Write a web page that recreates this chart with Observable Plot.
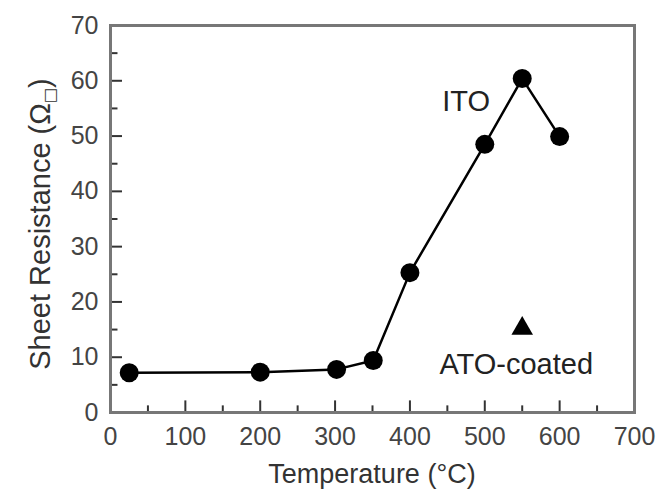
<!DOCTYPE html>
<html><head><meta charset="utf-8">
<script src="https://cdn.jsdelivr.net/npm/d3@7"></script>
<script src="https://cdn.jsdelivr.net/npm/@observablehq/plot@0.6"></script>
<style>body{margin:0;background:#fff;font-family:"Liberation Sans",Arial,sans-serif;}</style>
</head><body><div id="chart"></div>
<script>
const temps = [25, 200, 302, 351, 400, 500, 550, 600];
const itoRes = [7.2, 7.3, 7.8, 9.4, 25.3, 48.5, 60.4, 49.9];
const atoTemp = [550];
const atoRes = [15.2];
const xTicks = [0, 100, 200, 300, 400, 500, 600, 700];
const xMinor = [50, 150, 250, 350, 450, 550, 650];
const yTicks = [0, 10, 20, 30, 40, 50, 60, 70];
const yMinor = [5, 15, 25, 35, 45, 55, 65];

const ito = temps.map((t, i) => ({t, r: itoRes[i]}));
const ato = atoTemp.map((t, i) => ({t, r: atoRes[i]}));

const W = 667, H = 493, ML = 110, MR = 33, MT = 25, MB = 81;
const plot = Plot.plot({
  width: W, height: H,
  marginLeft: ML, marginRight: MR, marginTop: MT, marginBottom: MB,
  style: {fontFamily: "Liberation Sans, Arial, sans-serif", fontSize: "25px", color: "#444", background: "#fff"},
  x: {domain: [0, 700]},
  y: {domain: [0, 70]},
  marks: [
    Plot.axisX({ticks: xTicks, tickSize: 0, tickPadding: 15, label: null, fontSize: 25, fill: "#444"}),
    Plot.axisY({ticks: yTicks, tickSize: 0, tickPadding: 12, label: null, fontSize: 25, fill: "#444"}),
    Plot.ruleX(xTicks, {y1: 0, y2: 2.1, stroke: "#333", strokeWidth: 2}),
    Plot.ruleX(xMinor, {y1: 0, y2: 1.2, stroke: "#333", strokeWidth: 2}),
    Plot.ruleY(yTicks, {x1: 0, x2: 16, stroke: "#333", strokeWidth: 2}),
    Plot.ruleY(yMinor, {x1: 0, x2: 10, stroke: "#333", strokeWidth: 2}),
    Plot.frame({stroke: "#777", strokeWidth: 3}),
    Plot.line(ito, {x: "t", y: "r", stroke: "#000", strokeWidth: 2.5}),
    Plot.dot(ito, {x: "t", y: "r", r: 9.5, fill: "#000", stroke: "none"}),
    Plot.dot(ato, {x: "t", y: "r", symbol: "triangle", r: 8, fill: "#000", stroke: "none"}),
    Plot.text(["ITO"], {x: 475, y: 56.2, text: d => d, fontSize: 29, fill: "#222"}),
    Plot.text(["ATO-coated"], {x: 542, y: 8.6, text: d => d, fontSize: 29, fill: "#222"})
  ]
});
document.getElementById("chart").appendChild(plot);
const svg = d3.select(plot);
const yl = svg.append("text")
  .attr("transform", "translate(50,224) rotate(-90)")
  .attr("text-anchor", "middle")
  .attr("font-size", 29).attr("fill", "#333")
  .attr("font-family", "Liberation Sans, Arial, sans-serif");
yl.append("tspan").text("Sheet Resistance (Ω");
yl.append("tspan").attr("font-size", 16).attr("dy", 5)
  .attr("font-family", "DejaVu Sans, sans-serif").attr("fill", "#333").text("□");
yl.append("tspan").attr("dy", -5).text(")");
svg.append("text")
  .attr("x", 372).attr("y", 483)
  .attr("text-anchor", "middle")
  .attr("font-size", 27).attr("fill", "#333")
  .attr("font-family", "Liberation Sans, Arial, sans-serif")
  .text("Temperature (°C)");
</script></body></html>
